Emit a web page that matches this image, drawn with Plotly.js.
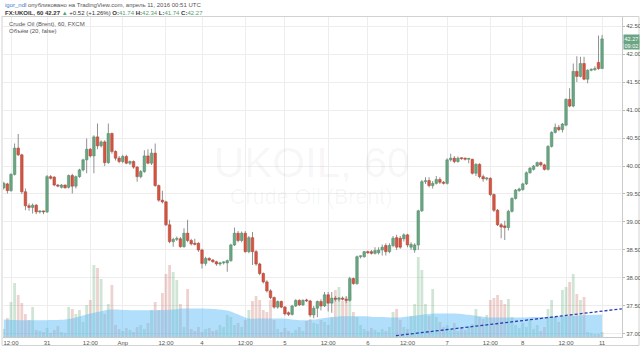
<!DOCTYPE html>
<html>
<head>
<meta charset="utf-8">
<script src="https://cdn.plot.ly/plotly-3.0.1.min.js"></script>
<style>html,body{margin:0;padding:0;background:#fff;}#chart{width:640px;height:347px;}</style>
</head>
<body>
<div id="chart"></div>
<script>
// ---- data (hourly bars, index = bar number) ----
const open = [
39.61,39.68,39.56,39.85,40.32,40.20,39.54,39.29,39.26,39.30,
39.18,39.19,39.18,39.81,39.80,39.66,39.62,39.66,39.62,39.83,
39.64,39.81,39.93,40.11,40.30,40.18,40.52,40.36,40.43,40.06,
40.58,40.26,40.14,40.08,40.17,40.05,40.08,39.98,39.81,39.90,
40.18,40.05,40.23,39.65,39.39,39.36,38.95,38.65,38.69,38.70,
38.56,38.80,38.67,38.62,38.62,38.50,38.26,38.35,38.32,38.29,
38.25,38.27,38.27,38.31,38.59,38.80,38.67,38.80,38.47,38.72,
38.47,38.25,38.08,37.93,37.77,37.65,37.48,37.58,37.48,37.38,
37.35,37.50,37.60,37.52,37.60,37.59,37.34,37.46,37.58,37.50,
37.70,37.55,37.64,37.62,37.64,37.62,37.60,37.99,37.90,38.38,
38.38,38.47,38.47,38.44,38.45,38.50,38.58,38.47,38.58,38.72,
38.71,38.70,38.77,38.55,38.50,38.59,39.20,39.72,39.74,39.65,
39.69,39.76,39.71,39.69,40.11,40.14,40.08,40.14,40.14,40.12,
40.12,39.87,40.03,39.81,39.77,39.78,39.49,39.21,38.95,38.93,
38.90,39.19,39.42,39.56,39.58,39.68,39.88,39.94,40.00,40.06,
40.02,39.94,40.35,40.60,40.69,40.65,40.73,41.19,41.07,41.69,
41.60,41.83,41.55,41.71,41.72,41.85,41.74];
const high = [
39.72,39.70,39.87,40.40,40.57,40.22,39.60,39.33,39.33,39.32,
39.21,39.20,39.84,39.84,39.82,39.68,39.68,39.67,39.85,39.86,
39.83,39.95,40.13,40.49,40.32,40.55,40.76,40.46,40.46,40.76,
40.60,40.28,40.18,40.20,40.20,40.10,40.10,40.00,39.93,40.28,
40.30,40.31,40.40,39.67,39.56,39.38,39.04,38.72,38.74,38.73,
38.89,39.04,38.70,38.70,38.64,38.52,38.38,38.37,38.34,38.31,
38.29,38.30,38.33,38.61,38.90,38.84,38.83,38.84,38.75,38.82,
38.50,38.27,38.10,37.96,37.80,37.67,37.60,37.60,37.50,37.40,
37.52,37.62,37.62,37.62,37.63,37.61,37.50,37.60,37.62,37.75,
37.75,37.75,37.68,37.66,37.67,37.68,38.02,38.01,38.40,38.40,
38.48,38.49,38.50,38.55,38.55,38.60,38.62,38.62,38.75,38.77,
38.75,38.80,38.79,38.64,38.62,39.22,39.75,39.80,39.80,39.73,
39.82,39.80,39.73,40.14,40.22,40.18,40.17,40.15,40.15,40.14,
40.13,40.05,40.05,39.85,39.80,39.80,39.51,39.23,38.98,39.02,
39.22,39.44,39.59,39.61,39.70,39.90,39.98,40.02,40.08,40.08,
40.04,40.37,40.62,40.76,40.73,40.77,41.21,41.39,41.83,41.96,
41.95,41.95,41.73,41.74,41.78,42.33,42.34];
const low = [
39.58,39.51,39.54,39.83,40.18,39.50,39.21,39.20,39.15,39.14,
39.15,39.14,39.16,39.76,39.64,39.62,39.60,39.60,39.60,39.51,
39.60,39.79,39.90,39.87,40.15,39.87,40.30,40.33,40.00,40.04,
40.22,40.10,40.05,40.05,40.03,40.02,39.95,39.72,39.78,39.88,
40.03,40.02,39.63,39.36,39.33,38.93,38.62,38.56,38.66,38.54,
38.54,38.64,38.58,38.58,38.47,38.17,38.22,38.30,38.27,38.22,
38.22,38.24,38.11,38.29,38.57,38.64,38.64,38.45,38.44,38.23,
38.22,38.05,37.90,37.74,37.62,37.45,37.45,37.46,37.33,37.32,
37.33,37.48,37.50,37.50,37.57,37.30,37.28,37.30,37.42,37.48,
37.40,37.38,37.58,37.58,37.60,37.55,37.58,37.88,37.88,38.35,
38.36,38.43,38.42,38.42,38.42,38.40,38.40,38.44,38.55,38.50,
38.52,38.65,38.55,38.50,38.45,38.50,39.18,39.68,39.62,39.60,
39.67,39.68,39.67,39.67,40.08,40.05,40.06,40.11,40.10,40.05,
39.85,39.82,39.78,39.72,39.74,39.46,39.18,38.93,38.71,38.68,
38.85,39.17,39.40,39.54,39.56,39.66,39.86,39.92,39.98,39.99,
39.92,39.92,40.33,40.58,40.62,40.60,40.71,41.05,41.05,41.50,
41.58,41.53,41.48,41.69,41.70,41.72,41.74];
const close = [
39.69,39.56,39.85,40.32,40.20,39.54,39.29,39.26,39.30,39.18,
39.19,39.18,39.81,39.78,39.66,39.64,39.66,39.61,39.83,39.64,
39.81,39.93,40.11,40.30,40.18,40.52,40.36,40.43,40.06,40.58,
40.26,40.14,40.08,40.17,40.05,40.08,39.98,39.81,39.90,40.18,
40.05,40.23,39.65,39.39,39.36,38.95,38.65,38.69,38.70,38.56,
38.80,38.67,38.61,38.60,38.50,38.26,38.35,38.32,38.29,38.25,
38.27,38.28,38.31,38.59,38.80,38.67,38.80,38.47,38.72,38.47,
38.25,38.08,37.93,37.77,37.65,37.48,37.58,37.48,37.36,37.35,
37.50,37.60,37.52,37.60,37.59,37.34,37.46,37.58,37.50,37.70,
37.55,37.64,37.62,37.64,37.62,37.60,37.99,37.90,38.38,38.38,
38.47,38.45,38.44,38.49,38.50,38.55,38.47,38.58,38.71,38.55,
38.55,38.77,38.59,38.60,38.59,39.20,39.72,39.73,39.65,39.69,
39.76,39.71,39.69,40.11,40.14,40.08,40.14,40.13,40.12,40.12,
39.87,40.03,39.81,39.77,39.77,39.49,39.21,38.95,38.91,38.90,
39.19,39.42,39.57,39.59,39.68,39.88,39.96,40.00,40.06,40.02,
39.94,40.35,40.60,40.69,40.65,40.75,41.19,41.07,41.69,41.60,
41.83,41.55,41.71,41.72,41.74,41.74,42.27];
const volume = [
800,1900,3500,5400,4200,3400,2300,1700,3000,700,
600,500,900,400,700,1100,500,400,3000,2800,
2300,2700,1500,3200,3700,7200,6900,5800,2300,3300,
5200,1200,800,600,900,700,500,1000,1200,800,
1400,2700,3500,2700,4400,6300,7200,6500,5700,3300,
1000,4800,800,600,1000,500,800,900,600,700,
1200,1000,2200,2000,1200,1400,1000,1700,2700,3600,
4100,3700,2700,2500,3700,1700,800,500,900,600,
400,700,1000,600,1600,1800,1400,1300,1700,1500,
1200,2000,4700,5000,3600,4000,4400,2500,2000,1200,
800,600,900,700,500,800,600,1000,2500,2800,
1700,1000,800,2100,3300,8000,6700,3300,2100,4800,
2000,1500,1000,1200,800,1400,600,900,700,1100,
1300,2800,2000,1800,2200,3700,3900,4200,3700,3300,
3800,2000,1200,900,1400,1000,1800,800,1200,600,
1000,2800,3700,2000,1500,4700,5000,5500,6300,4300,
3700,4000,500,400,300,300,500];
// volume moving average (length 20), read from the blue area
const volumeMA = [
1740,1720,1700,1700,1680,1680,1670,1670,1670,1670,
1670,1680,1680,1690,1700,1700,1720,1750,1800,1840,
1950,2050,2150,2250,2340,2420,2500,2580,2650,2720,
2740,2740,2720,2700,2700,2680,2680,2670,2670,2670,
2670,2670,2670,2680,2700,2700,2720,2750,2780,2820,
2840,2840,2840,2840,2840,2840,2830,2820,2800,2780,
2740,2700,2640,2550,2400,2250,2100,1950,1840,1820,
1820,1840,1840,1840,1840,1840,1840,1840,1820,1800,
1760,1720,1680,1670,1680,1700,1740,1780,1840,1890,
1940,1980,2020,2050,2070,2070,2070,2070,2070,2070,
2070,2050,2030,2000,2000,2000,1980,1960,1940,1940,
1960,2000,2050,2080,2120,2180,2230,2270,2300,2320,
2340,2340,2340,2340,2340,2340,2320,2300,2260,2220,
2170,2120,2070,2020,1980,1940,1940,1940,1940,1940,
1940,1940,1940,1940,1950,1960,1980,2000,2000,2000,
2000,2000,2000,2020,2040,2060,2070,2090,2110,2130,
2150,2170,2190,2200,2220,2230,2240];
const tickIdx = [2,12,24,33,45,55,67,78,90,101,112,123,135,144,156,166];
const tickText = ['12:00','31','12:00','Апр','12:00','4','12:00','5','12:00','6','12:00','7','12:00','8','12:00','11'];
const priceTicks = [37.0,37.5,38.0,38.5,39.0,39.5,40.0,40.5,41.0,41.5,42.0,42.5];
const trendX = [108.8, 171.5];
const trendY = [36.97, 37.45];

// ---- styles ----
const UP = '#6ba583', DOWN = '#d75442';
const UP_EDGE = '#4f8a67', DOWN_EDGE = '#a8402f';
const FONT = 'Liberation Sans, Arial, sans-serif';

const idx = open.map((_, i) => i);
const isUp = open.map((o, i) => close[i] >= o);
const bodyBase = open.map((o, i) => Math.min(o, close[i]));
const bodyLen = open.map((o, i) => Math.max(Math.abs(close[i] - o), 0.018));
const wickLen = high.map((h, i) => h - low[i]);

const traces = [
  { type: 'bar', x: idx, y: volume, yaxis: 'y', xaxis: 'x', width: 0.78,
    marker: { color: isUp.map(u => u ? 'rgba(95,170,115,0.3)' : 'rgba(200,105,95,0.3)'), line: { width: 0 } },
    hoverinfo: 'skip' },
  { type: 'scatter', mode: 'lines', x: idx, y: volumeMA, yaxis: 'y', xaxis: 'x',
    fill: 'tozeroy', fillcolor: 'rgba(100,190,245,0.5)', line: { width: 0, shape: 'spline', color: 'rgba(100,190,245,0.5)' },
    hoverinfo: 'skip' },
  { type: 'bar', x: idx, y: wickLen, base: low, yaxis: 'y2', xaxis: 'x', width: 0.26,
    marker: { color: '#8a8a8c', line: { width: 0 } }, hoverinfo: 'skip' },
  { type: 'bar', x: idx, y: bodyLen, base: bodyBase, yaxis: 'y2', xaxis: 'x', width: 0.72,
    marker: { color: isUp.map(u => u ? UP : DOWN), line: { width: 0.5, color: isUp.map(u => u ? UP_EDGE : DOWN_EDGE) } },
    hoverinfo: 'skip' },
  { type: 'scatter', mode: 'lines', x: trendX, y: trendY, yaxis: 'y2', xaxis: 'x',
    line: { color: '#2b3cb4', width: 1.3, dash: '3px,2px' }, hoverinfo: 'skip' }
];

const last = close.length - 1;
const green = '#53a16b';
const layout = {
  width: 640, height: 347,
  margin: { l: 3, r: 18, t: 17, b: 10, pad: 0 },
  paper_bgcolor: '#ffffff', plot_bgcolor: '#ffffff',
  showlegend: false, barmode: 'overlay',
  font: { family: FONT, size: 6, color: '#555' },
  xaxis: {
    range: [-0.22, 171.53], tickmode: 'array', tickvals: tickIdx, ticktext: tickText,
    showgrid: true, gridcolor: '#ededed', gridwidth: 1, zeroline: false,
    showline: true, linecolor: '#c9c9c9', ticks: '', tickfont: { size: 6, color: '#555' },
    fixedrange: true
  },
  yaxis: { range: [0, 32000], visible: false, fixedrange: true },
  yaxis2: {
    overlaying: 'y', side: 'right', range: [36.946, 42.661],
    tickmode: 'array', tickvals: priceTicks, ticktext: priceTicks.map(v => v.toFixed(2)),
    showgrid: true, gridcolor: '#ededed', zeroline: false,
    showline: true, linecolor: '#c9c9c9', ticks: 'outside', ticklen: 2, tickcolor: '#bbb',
    tickfont: { size: 6, color: '#555' }, fixedrange: true, ticklabeloverflow: 'allow'
  },
  shapes: [
    { type: 'rect', xref: 'paper', yref: 'paper', x0: -0.0016, x1: 1.0275, y0: -0.0266, y1: 1.0016,
      line: { color: '#d2d2d2', width: 1 }, fillcolor: 'rgba(0,0,0,0)', layer: 'below' }
  ],
  annotations: [
    { xref: 'paper', yref: 'paper', x: 0.4992, y: 0.544, xanchor: 'center', yanchor: 'middle', showarrow: false,
      text: 'UKOIL, 60', font: { family: FONT, size: 42, color: 'rgba(0,0,0,0.045)' } },
    { xref: 'paper', yref: 'paper', x: 0.498, y: 0.439, xanchor: 'center', yanchor: 'middle', showarrow: false,
      text: 'Crude Oil (Brent)', font: { family: FONT, size: 21.5, color: 'rgba(0,0,0,0.045)' } },
    { xref: 'paper', yref: 'paper', x: 0, y: 1.0375, xanchor: 'left', yanchor: 'middle', showarrow: false,
      text: '<span style="color:#3b7bc8">igor_ndl</span> опубликовано на TradingView.com, апрель 11, 2016 00:51 UTC',
      font: { family: FONT, size: 6, color: '#555' } },
    { xref: 'paper', yref: 'paper', x: 0, y: 1.0135, xanchor: 'left', yanchor: 'middle', showarrow: false,
      text: '<b>FX:UKOIL, 60</b> <b>' + close[last].toFixed(2) + '</b> <span style="color:' + green + '">▲</span> +0.52 (+1.26%) ' +
            '<b>O:</b><span style="color:' + green + '">' + open[last].toFixed(2) + '</span> ' +
            '<b>H:</b><span style="color:' + green + '">' + high[last].toFixed(2) + '</span> ' +
            '<b>L:</b><span style="color:' + green + '">' + low[last].toFixed(2) + '</span> ' +
            '<b>C:</b><span style="color:' + green + '">' + close[last].toFixed(2) + '</span>',
      font: { family: FONT, size: 6, color: '#333' } },
    { xref: 'paper', yref: 'paper', x: 0.0065, y: 0.977, xanchor: 'left', yanchor: 'middle', showarrow: false,
      text: 'Crude Oil (Brent), 60, FXCM', font: { family: FONT, size: 6, color: '#555' } },
    { xref: 'paper', yref: 'paper', x: 0.0065, y: 0.956, xanchor: 'left', yanchor: 'middle', showarrow: false,
      text: 'Объём (20, false)', font: { family: FONT, size: 6, color: '#555' } },
    { xref: 'paper', yref: 'y2', x: 1, y: close[last], xanchor: 'left', yanchor: 'middle', showarrow: false,
      text: close[last].toFixed(2), bgcolor: UP, borderpad: 0.5, xshift: 1,
      font: { family: FONT, size: 5.5, color: '#ffffff' } },
    { xref: 'paper', yref: 'y2', x: 1, y: close[last], xanchor: 'left', yanchor: 'middle', showarrow: false,
      text: '09:02', bgcolor: UP, borderpad: 0.5, xshift: 1, yshift: -7,
      font: { family: FONT, size: 5.5, color: '#ffffff' } }
  ]
};

Plotly.newPlot('chart', traces, layout, { staticPlot: true, displayModeBar: false });
</script>
</body>
</html>
